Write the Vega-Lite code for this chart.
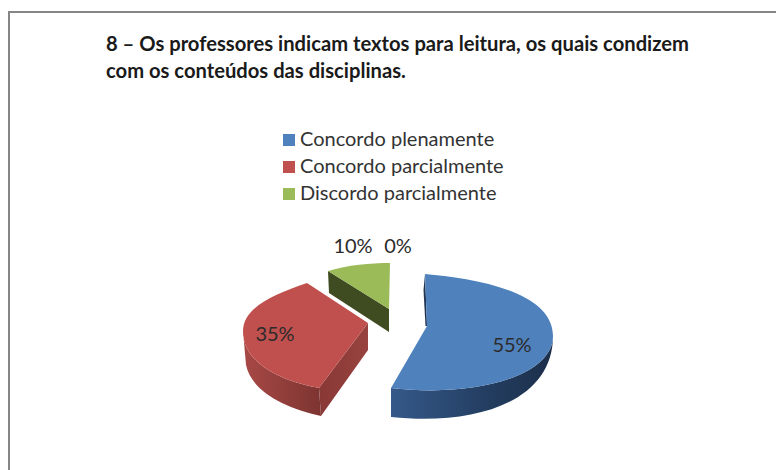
{
"$schema":"https://vega.github.io/schema/vega-lite/v6.json",
"autosize":{"type":"none"},
"padding":{"left":9,"top":12,"right":-2,"bottom":-2},
"width":769,"height":460,
"background":"white",
"view":{"stroke":"#868686","strokeWidth":2,"fill":"white"},
"config":{"font":"Lato"},
"title":{"text":["8 – Os professores indicam textos para leitura, os quais condizem","com os conteúdos das disciplinas."],"anchor":"start","frame":"group","dx":97,"dy":70,"offset":0,"font":"Lato","fontSize":20.2,"fontWeight":"bold","color":"#1a1a1a","lineHeight":27},
"data":{"values":[
{"slice":"Concordo plenamente","value":55,"label":"55%"},
{"slice":"Concordo parcialmente","value":35,"label":"35%"},
{"slice":"Discordo parcialmente","value":10,"label":"10%"},
{"slice":"Discordo totalmente","value":0,"label":"0%"}
]},
"resolve":{"scale":{"x":"independent","y":"independent","shape":"independent"}},
"layer":[
{"transform":[{"filter":"datum.value==35"}],
 "mark":{"type":"point","filled":true,"opacity":1,"size":4,"strokeWidth":0,"color":{"gradient":"linear","x1":0,"x2":1,"y1":0,"y2":0,"stops":[{"offset":0,"color":"#a84946"},{"offset":1,"color":"#7d3431"}]},"shape":"M-125,8 L-122,42 C-116,69 -83,85 -47,93 L-49,65 C-83,59 -125,42 -125,8 Z"},
 "encoding":{"x":{"field":"value","type":"quantitative","axis":null,"scale":{"domain":[10,35,55],"range":[380,359,418],"zero":false,"nice":false}},"y":{"field":"value","type":"quantitative","axis":null,"scale":{"domain":[10,35,55],"range":[297,311,314],"zero":false,"nice":false}}}},
{"transform":[{"filter":"datum.value==35"}],
 "mark":{"type":"point","filled":true,"opacity":1,"size":4,"strokeWidth":0,"color":{"gradient":"linear","x1":0,"x2":1,"y1":0,"y2":0,"stops":[{"offset":0,"color":"#883835"},{"offset":1,"color":"#984340"}]},"shape":"M-49,65 L0,0 L0,27 L-47,93 Z"},
 "encoding":{"x":{"field":"value","type":"quantitative","axis":null,"scale":{"domain":[10,35,55],"range":[380,359,418],"zero":false,"nice":false}},"y":{"field":"value","type":"quantitative","axis":null,"scale":{"domain":[10,35,55],"range":[297,311,314],"zero":false,"nice":false}}}},
{"transform":[{"filter":"datum.value==10"}],
 "mark":{"type":"point","filled":true,"opacity":1,"size":4,"strokeWidth":0,"color":"#3f4b21","shape":"M-61,-38 L0,0 L0,23 L-60,-16 Z"},
 "encoding":{"x":{"field":"value","type":"quantitative","axis":null,"scale":{"domain":[10,35,55],"range":[380,359,418],"zero":false,"nice":false}},"y":{"field":"value","type":"quantitative","axis":null,"scale":{"domain":[10,35,55],"range":[297,311,314],"zero":false,"nice":false}}}},
{"transform":[{"filter":"datum.value==55"}],
 "mark":{"type":"point","filled":true,"opacity":1,"size":4,"strokeWidth":0,"color":{"gradient":"linear","x1":0,"x2":1,"y1":0,"y2":0,"stops":[{"offset":0,"color":"#35598a"},{"offset":0.6,"color":"#233d60"},{"offset":1,"color":"#1c2f4a"}]},"shape":"M126,10 C126,50 48,72 -36,62 L-36,91 C48,100 126,76 126,10 Z"},
 "encoding":{"x":{"field":"value","type":"quantitative","axis":null,"scale":{"domain":[10,35,55],"range":[380,359,418],"zero":false,"nice":false}},"y":{"field":"value","type":"quantitative","axis":null,"scale":{"domain":[10,35,55],"range":[297,311,314],"zero":false,"nice":false}}}},
{"transform":[{"filter":"datum.value==55"}],
 "mark":{"type":"point","filled":true,"opacity":1,"size":4,"strokeWidth":0,"color":"#1f3552","shape":"M-2,-52 L-3.5,-36 L-1.5,0 L0,0 Z"},
 "encoding":{"x":{"field":"value","type":"quantitative","axis":null,"scale":{"domain":[10,35,55],"range":[380,359,418],"zero":false,"nice":false}},"y":{"field":"value","type":"quantitative","axis":null,"scale":{"domain":[10,35,55],"range":[297,311,314],"zero":false,"nice":false}}}},
{"transform":[{"filter":"datum.value>0"}],
 "mark":{"type":"point","filled":true,"opacity":1,"size":4,"strokeWidth":0},
 "encoding":{
  "x":{"field":"value","type":"quantitative","axis":null,"scale":{"domain":[10,35,55],"range":[380,359,418],"zero":false,"nice":false}},
  "y":{"field":"value","type":"quantitative","axis":null,"scale":{"domain":[10,35,55],"range":[297,311,314],"zero":false,"nice":false}},
  "shape":{"field":"slice","type":"nominal","legend":null,"scale":{"domain":["Concordo plenamente","Concordo parcialmente","Discordo parcialmente"],"range":["M-2,-52 C43,-48 126,-36 126,10 C126,50 48,72 -36,62 L0,0 Z","M-61,-40 L0,0 L-49,65 C-83,59 -125,42 -125,8 C-125,-15 -96,-28 -61,-40 Z","M-61,-38 C-41,-44 -19,-46 1,-46 L0,0 Z"]}},
  "color":{"field":"slice","type":"nominal","scale":{"domain":["Concordo plenamente","Concordo parcialmente","Discordo parcialmente"],"range":["#4f81bd","#c0504d","#9bbb59"]},
   "legend":{"title":null,"orient":"none","legendX":270,"legendY":118,"symbolType":"square","symbolSize":144,"symbolOpacity":1,"symbolStrokeWidth":0,"labelFont":"Lato","labelFontSize":20,"labelColor":"#333333","labelOffset":1,"rowPadding":7,"labelLimit":400}}
 }},
{"mark":{"type":"text","font":"Lato","fontSize":20,"align":"center","baseline":"alphabetic","color":"#2b2b2b"},
 "encoding":{
  "x":{"field":"value","type":"quantitative","axis":null,"scale":{"domain":[0,10,35,55],"range":[389,344,266,503],"zero":false,"nice":false}},
  "y":{"field":"value","type":"quantitative","axis":null,"scale":{"domain":[0,10,35,55],"range":[241,241,329,340],"zero":false,"nice":false}},
  "text":{"field":"label","type":"nominal"}
 }}
]
}
